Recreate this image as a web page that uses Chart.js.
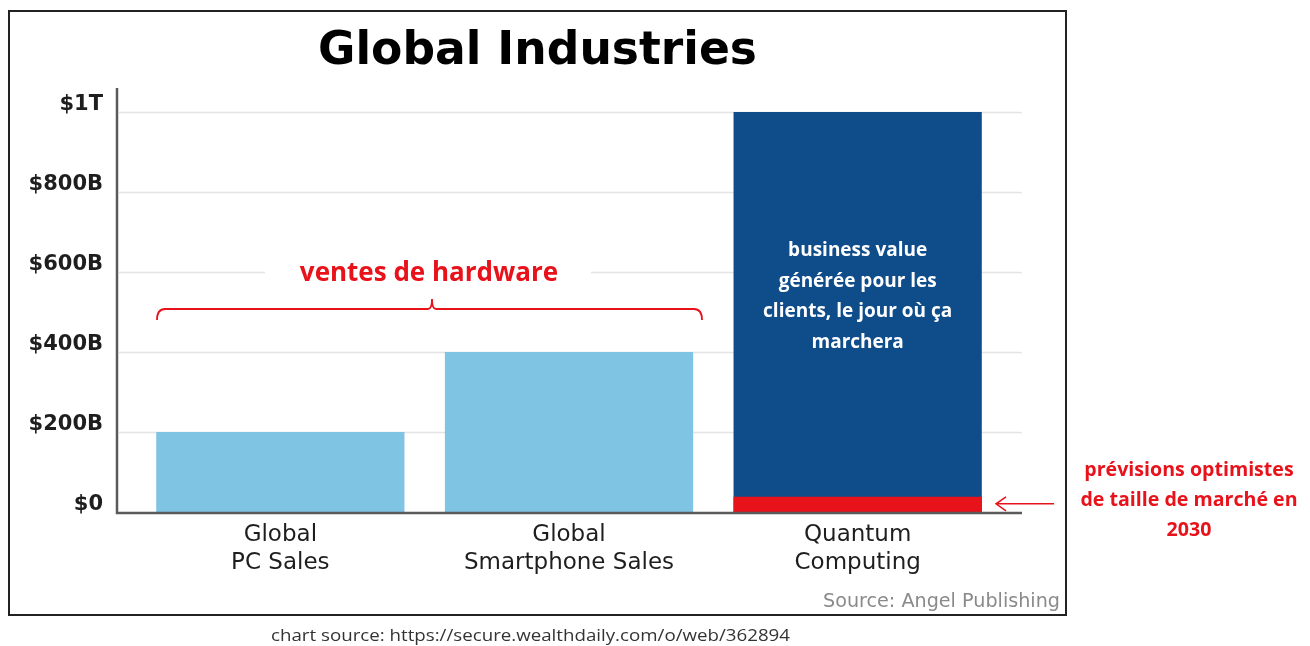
<!DOCTYPE html>
<html>
<head>
<meta charset="utf-8">
<title>Global Industries</title>
<script src="https://cdn.jsdelivr.net/npm/chart.js@4.4.1/dist/chart.umd.min.js"></script>
<style>
  html, body { margin: 0; padding: 0; background: #fff; }
  #wrap { position: relative; width: 1310px; height: 646px; }
</style>
</head>
<body>
<div id="wrap"><canvas id="chart" width="1310" height="646"></canvas></div>
<script>
// values in billions of dollars
const categories = [['Global', 'PC Sales'], ['Global', 'Smartphone Sales'], ['Quantum', 'Computing']];
const industryValues = [200, 400, 1000];
const forecast2030 = [0, 0, 38];
const tickLabels = { 0: '$0', 200: '$200B', 400: '$400B', 600: '$600B', 800: '$800B', 1000: '$1T' };

const barColors = ['#7fc4e3', '#7fc4e3', '#0f4c8a'];
const red = '#e8121b';

// text squeezed/stretched to a given width, centred on cx
function fitText(ctx, text, cx, y, width) {
  const w = ctx.measureText(text).width;
  ctx.save();
  ctx.translate(cx, y);
  ctx.scale(width / w, 1);
  ctx.textAlign = 'center';
  ctx.fillText(text, 0, 0);
  ctx.restore();
}

// draws the frame, title, extended axis/grid lines and the red annotations
const decorations = {
  id: 'decorations',
  beforeDatasetsDraw(chart) {
    const ctx = chart.ctx;
    const area = chart.chartArea;
    const y = chart.scales.y;
    const left = area.left - 19, right = area.right + 20;
    ctx.save();
    ctx.strokeStyle = '#e4e4e4';
    ctx.lineWidth = 1.5;
    [200, 400, 600, 800, 1000].forEach(v => {
      const py = Math.round(y.getPixelForValue(v)) + 0.5;
      ctx.beginPath();
      ctx.moveTo(left + 2, py);
      ctx.lineTo(right, py);
      ctx.stroke();
    });
    // mask behind "ventes de hardware"
    ctx.fillStyle = '#fff';
    ctx.fillRect(265, 255, 326, 36);
    ctx.restore();
  },
  afterDatasetsDraw(chart) {
    const ctx = chart.ctx;
    const area = chart.chartArea;
    const y = chart.scales.y;
    const x = chart.scales.x;
    const left = area.left - 19, right = area.right + 20;
    const base = y.getPixelForValue(0);
    ctx.save();
    // axis lines
    ctx.strokeStyle = '#5a5a5a';
    ctx.lineWidth = 2.5;
    ctx.beginPath();
    ctx.moveTo(left, y.getPixelForValue(1060));
    ctx.lineTo(left, base + 1);
    ctx.lineTo(right, base + 1);
    ctx.stroke();

    // frame
    ctx.strokeStyle = '#222';
    ctx.lineWidth = 2;
    ctx.strokeRect(9, 11, 1057, 604);

    // title
    ctx.fillStyle = '#000';
    ctx.font = 'bold 46px "DejaVu Sans"';
    ctx.textBaseline = 'alphabetic';
    fitText(ctx, 'Global Industries', 537.5, 64, 439);

    // source
    ctx.fillStyle = '#8a8a8a';
    ctx.font = '19px "DejaVu Sans"';
    fitText(ctx, 'Source: Angel Publishing', 941.5, 607, 237);

    ctx.fillStyle = '#333';
    ctx.font = '17px "Open Sans"';
    fitText(ctx, 'chart source: https://secure.wealthdaily.com/o/web/362894', 530.5, 641, 519);

    // bracket over hardware bars
    ctx.strokeStyle = red;
    ctx.lineWidth = 1.8;
    const bx0 = 157, bx1 = 702, by = 309, mid = 432;
    ctx.beginPath();
    ctx.moveTo(bx0, by + 11);
    ctx.quadraticCurveTo(bx0, by, bx0 + 8, by);
    ctx.lineTo(mid - 4, by);
    ctx.quadraticCurveTo(mid, by, mid, by - 10);
    ctx.quadraticCurveTo(mid, by, mid + 4, by);
    ctx.lineTo(bx1 - 8, by);
    ctx.quadraticCurveTo(bx1, by, bx1, by + 11);
    ctx.stroke();

    ctx.fillStyle = red;
    ctx.font = 'bold 26px "Open Sans"';
    ctx.textAlign = 'center';
    ctx.fillText('ventes de hardware', 429, 281);

    // text inside the quantum bar
    const qx = x.getPixelForValue(2);
    ctx.fillStyle = '#fff';
    ctx.font = 'bold 19px "Open Sans"';
    ['business value', 'générée pour les', 'clients, le jour où ça', 'marchera'].forEach((t, i) => {
      ctx.fillText(t, qx, 256 + i * 30.5);
    });

    // right annotation + arrow
    ctx.fillStyle = red;
    ctx.font = 'bold 19.6px "Open Sans"';
    ['prévisions optimistes', 'de taille de marché en', '2030'].forEach((t, i) => {
      ctx.fillText(t, 1189, 476 + i * 30);
    });
    const ay = y.getPixelForValue(38) + 7;
    ctx.strokeStyle = red;
    ctx.lineWidth = 1.5;
    ctx.beginPath();
    ctx.moveTo(1054, ay);
    ctx.lineTo(996, ay);
    ctx.moveTo(1006, ay - 7);
    ctx.lineTo(996, ay);
    ctx.lineTo(1006, ay + 7);
    ctx.stroke();
    ctx.restore();
  }
};

const ctx = document.getElementById('chart').getContext('2d');
const myChart = new Chart(ctx, {
  type: 'bar',
  data: {
    labels: categories,
    datasets: [
      {
        label: 'Forecast 2030 market size',
        data: forecast2030,
        backgroundColor: red,
        grouped: false,
        barPercentage: 0.86,
        categoryPercentage: 1
      },
      {
        label: 'Global industries',
        data: industryValues,
        backgroundColor: barColors,
        grouped: false,
        barPercentage: 0.86,
        categoryPercentage: 1
      }
    ]
  },
  options: {
    responsive: false,
    animation: false,
    layout: { padding: { top: 88, left: 0, right: 308, bottom: 0 } },
    plugins: {
      legend: { display: false },
      tooltip: { enabled: false },
      title: { display: false }
    },
    scales: {
      x: {
        grid: { display: false, drawTicks: false },
        border: { display: false },
        ticks: {
          color: '#1e1e1e',
          padding: 9,
          font: { family: 'DejaVu Sans', size: 23, lineHeight: 1.22 },
          maxRotation: 0
        },
        afterFit(scale) { scale.height = 134; }
      },
      y: {
        min: 0,
        max: 1060,
        grid: { display: false, drawTicks: false },
        border: { display: false },
        ticks: {
          stepSize: 200,
          includeBounds: false,
          color: '#1e1e1e',
          padding: 33,
          labelOffset: -7,
          font: { family: 'DejaVu Sans', size: 21, weight: 'bold' },
          callback: function (value) { return tickLabels[value]; }
        },
        afterFit(scale) { scale.width = 136; }
      }
    }
  },
  plugins: [decorations]
});
</script>
</body>
</html>
